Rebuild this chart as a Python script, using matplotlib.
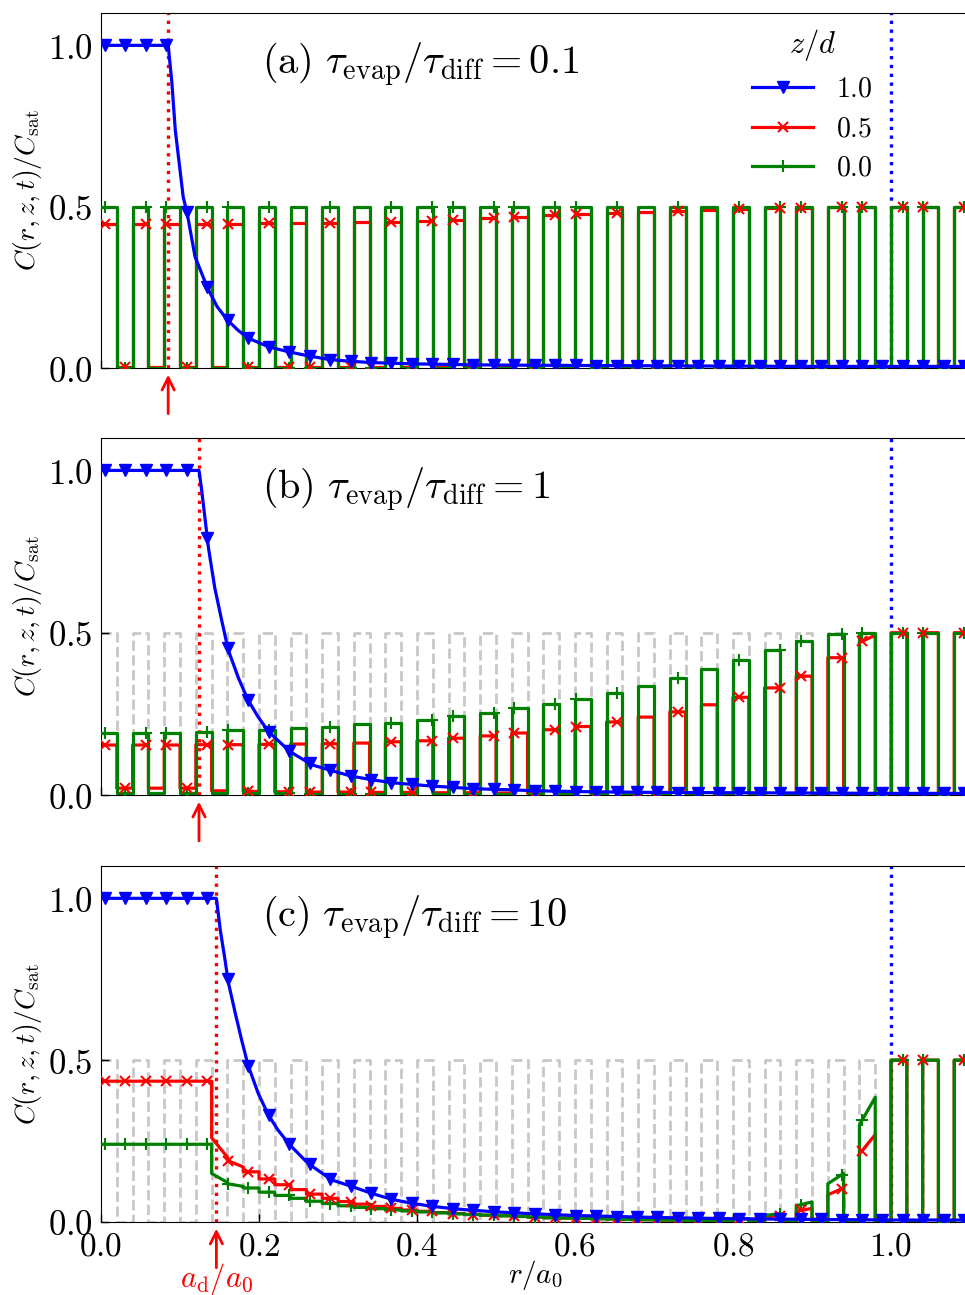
import numpy as np
import matplotlib
matplotlib.use("Agg")
from matplotlib import pyplot as plt
from matplotlib import rcParams
from matplotlib.lines import Line2D
from matplotlib.ticker import FuncFormatter

rcParams["mathtext.fontset"] = "cm"
rcParams["font.family"] = "serif"
rcParams["font.serif"] = ["DejaVu Serif"]
rcParams["xtick.direction"] = "in"
rcParams["ytick.direction"] = "in"
rcParams["xtick.labelsize"] = 24
rcParams["ytick.labelsize"] = 25

# pads of width 0.02 start every 0.04 in r/a0; 28 pads, 27 gaps between them
seg_edges = np.round(np.arange(0.0, 1.1001, 0.02), 2)

ratios = ["0.1", "1", "10"]
panel_letters = ["a", "b", "c"]
a_drop = [0.085, 0.124, 0.146]

# reference pattern (grey dashed), C/Csat on pads and in gaps
ref_pads = [0.5] * 28
ref_gaps = [0.0] * 27

# z/d = 0.0 (green)
green_pads = [
    [0.5] * 28,
    [0.192, 0.192, 0.192, 0.195, 0.199, 0.201, 0.206, 0.211, 0.218, 0.223,
     0.232, 0.242, 0.253, 0.268, 0.280, 0.297, 0.314, 0.335, 0.361, 0.387,
     0.415, 0.446, 0.474, 0.497, 0.5, 0.5, 0.5, 0.5],
    [0.24, 0.24, 0.24, 0.24, (0.118, 0.11), 0.092, 0.073, 0.057, 0.045, 0.037,
     0.031, 0.025, 0.021, 0.017, 0.013, 0.011, 0.009, 0.007, 0.006, 0.005,
     0.01, (0.02, 0.026), (0.05, 0.062), (0.118, 0.15), (0.30, 0.385),
     0.5, 0.5, 0.5],
]
green_gaps = [
    [0.0] * 27,
    [0.006, 0.006, 0.006, 0.005, 0.005, 0.005, 0.004, 0.004, 0.004, 0.004,
     0.003, 0.003, 0.003, 0.003, 0.003, 0.003, 0.002, 0.002, 0.002, 0.002,
     0.002, 0.002, 0.002, 0.002, 0.001, 0.0, 0.0],
    [0.24, 0.24, 0.24, (0.15, 0.122), 0.105, 0.082, 0.064, 0.05, 0.041, 0.034,
     0.028, 0.023, 0.019, 0.015, 0.012, 0.01, 0.008, 0.006, 0.005, 0.004,
     0.003, 0.002, 0.002, 0.002, 0.002, 0.0, 0.0],
]

# z/d = 0.5 (red)
red_pads = [
    [0.445, 0.445, 0.445, 0.446, 0.447, 0.448, 0.449, 0.450, 0.452, 0.453,
     0.457, 0.460, 0.465, 0.469, 0.474, 0.478, 0.481, 0.485, 0.488, 0.491,
     0.493, 0.495, 0.497, 0.498, 0.499, 0.5, 0.5, 0.5],
    [0.154, 0.154, 0.154, 0.155, 0.155, 0.156, 0.157, 0.158, 0.160, 0.164,
     0.167, 0.175, 0.182, 0.191, 0.201, 0.211, 0.225, 0.240, 0.256, 0.278,
     0.301, 0.330, 0.366, 0.423, (0.47, 0.492), 0.5, 0.5, 0.5],
    [0.435, 0.435, 0.435, 0.435, (0.19, 0.17), 0.133, 0.1, 0.073, 0.055, 0.042,
     0.033, 0.026, 0.021, 0.017, 0.013, 0.011, 0.009, 0.007, 0.006, 0.005,
     0.01, (0.016, 0.02), (0.033, 0.042), (0.084, 0.105), (0.21, 0.27),
     0.5, 0.5, 0.5],
]
red_gaps = [
    [0.004] * 25 + [0.0, 0.0],
    [0.021, 0.021, 0.021, 0.013, 0.011, 0.010, 0.009, 0.009, 0.008, 0.008,
     0.007, 0.007, 0.006, 0.006, 0.006, 0.005, 0.005, 0.005, 0.004, 0.004,
     0.004, 0.003, 0.003, 0.003, 0.002, 0.0, 0.0],
    [0.435, 0.435, 0.435, (0.26, 0.20), 0.155, 0.115, 0.086, 0.063, 0.048, 0.037,
     0.029, 0.023, 0.019, 0.015, 0.012, 0.01, 0.008, 0.006, 0.005, 0.004,
     0.002, 0.001, 0.001, 0.001, 0.001, 0.0, 0.0],
]

# z/d = 1.0 (blue)
blue_r = [
    [0.0, 0.085, 0.0895, 0.094, 0.100, 0.104, 0.109, 0.119, 0.135, 0.147,
     0.160, 0.173, 0.186, 0.212, 0.238, 0.264, 0.290, 0.316, 0.342, 0.368,
     0.394, 0.42, 0.47, 0.52, 0.6, 0.7, 0.8, 0.9, 1.0, 1.1],
    [0.0, 0.124, 0.127, 0.132, 0.136, 0.144, 0.153, 0.161, 0.174, 0.186,
     0.199, 0.212, 0.239, 0.267, 0.292, 0.317, 0.343, 0.368, 0.391, 0.417,
     0.442, 0.467, 0.49, 0.518, 0.54, 0.57, 0.62, 0.7, 0.8, 0.9, 1.0, 1.1],
    [0.0, 0.146, 0.151, 0.157, 0.161, 0.170, 0.178, 0.186, 0.199, 0.212,
     0.224, 0.239, 0.262, 0.292, 0.317, 0.343, 0.368, 0.393, 0.42, 0.45,
     0.5, 0.55, 0.6, 0.65, 0.7, 0.75, 0.8, 0.9, 1.0, 1.1],
]
blue_c = [
    [1.0, 1.0, 0.89, 0.737, 0.613, 0.53, 0.48, 0.345, 0.247, 0.19,
     0.149, 0.118, 0.093, 0.066, 0.05, 0.037, 0.026, 0.021, 0.017, 0.015,
     0.013, 0.012, 0.010, 0.009, 0.008, 0.007, 0.006, 0.005, 0.005, 0.005],
    [1.0, 1.0, 0.947, 0.844, 0.761, 0.638, 0.535, 0.447, 0.36, 0.293,
     0.24, 0.195, 0.134, 0.093, 0.075, 0.058, 0.047, 0.038, 0.033, 0.028,
     0.024, 0.02, 0.018, 0.016, 0.014, 0.012, 0.01, 0.008, 0.007, 0.006, 0.005, 0.005],
    [1.0, 1.0, 0.901, 0.809, 0.742, 0.644, 0.562, 0.485, 0.397, 0.33,
     0.284, 0.238, 0.181, 0.13, 0.11, 0.088, 0.07, 0.058, 0.048, 0.04,
     0.031, 0.025, 0.02, 0.017, 0.014, 0.012, 0.01, 0.008, 0.006, 0.006],
]

# marker positions along r (every n-th grid point of the original mesh)
r_marks = 0.005 + 0.0259 * np.arange(43)


def step_line(pads, gaps):
    segs = []
    for i in range(len(pads)):
        segs.append(pads[i])
        if i < len(gaps):
            segs.append(gaps[i])
    xs, ys = [], []
    for i, v in enumerate(segs):
        v0, v1 = v if isinstance(v, tuple) else (v, v)
        xs += [seg_edges[i], seg_edges[i + 1]]
        ys += [v0, v1]
    return np.array(xs), np.array(ys)


fig = plt.figure(figsize=(9.65, 12.95), dpi=100)
bottoms = [0.7158, 0.3861, 0.0564]
heights = [0.2741, 0.2757, 0.2749]

for p in range(3):
    ax = fig.add_axes([0.1047, bottoms[p], 0.9005, heights[p]])
    ax.set_xlim(0, 1.1)
    ax.set_ylim(0, 1.1)

    if p > 0:
        xr, yr = step_line(ref_pads, ref_gaps)
        ax.plot(xr, yr, color="#c8c8c8", ls="--", lw=2, zorder=1)

    ax.axvline(a_drop[p], color="red", ls=":", lw=2.4, zorder=1.5)
    ax.axvline(1.0, color="blue", ls=":", lw=2.4, zorder=1.5)

    xd, yd = step_line(red_pads[p], red_gaps[p])
    ax.plot(xd, yd, color="red", lw=2.3, zorder=2)

    xg, yg = step_line(green_pads[p], green_gaps[p])
    ax.plot(xg, yg, color="green", lw=2.3, zorder=3)
    ax.plot(r_marks, np.interp(r_marks, xg, yg), ls="none", color="green",
            marker="+", ms=9, mew=1.5, zorder=3)

    ax.plot(r_marks, np.interp(r_marks, xd, yd), ls="none", color="red",
            marker="x", ms=7, mew=1.5, zorder=3.5)

    ax.plot(blue_r[p], blue_c[p], color="blue", lw=2.3, zorder=4)
    ax.plot(r_marks, np.interp(r_marks, blue_r[p], blue_c[p]), ls="none",
            color="blue", marker="v", ms=8.5, zorder=4)

    ax.text(0.204, 0.94, r"$\mathrm{(%s)}\ \tau_{\rm evap}/\tau_{\rm diff} = %s$"
            % (panel_letters[p], ratios[p]),
            fontsize=29, ha="left", va="center")

    ax.set_yticks([0.0, 0.5, 1.0])
    ax.set_xticks([0.0, 0.2, 0.4, 0.6, 0.8, 1.0])
    ax.yaxis.set_major_formatter(FuncFormatter(lambda v, pos: r"$%.1f$" % v))
    ax.xaxis.set_major_formatter(FuncFormatter(lambda v, pos: r"$%.1f$" % v))
    ax.tick_params(length=6, width=1, top=False, right=False, pad=6)
    if p < 2:
        ax.tick_params(labelbottom=False)
    ax.spines["right"].set_visible(False)

    ax.set_ylabel(r"$C(r,z,t)/C_{\rm sat}$", fontsize=20)
    ax.yaxis.set_label_coords(-0.066, 0.5)

    ax.annotate("", xy=(a_drop[p], -0.012), xytext=(a_drop[p], -0.15),
                arrowprops=dict(arrowstyle="->", color="red", lw=2,
                                mutation_scale=22),
                annotation_clip=False)

    if p == 2:
        ax.set_xlabel(r"$r/a_0$", fontsize=21, labelpad=-3)
        ax.text(a_drop[p], -0.175, r"$a_{\rm d}/a_0$", color="red",
                fontsize=22, ha="center", va="center")

    if p == 0:
        handles = [
            Line2D([], [], color="blue", lw=2.3, marker="v", ms=8.5),
            Line2D([], [], color="red", lw=2.3, marker="x", ms=7, mew=1.5),
            Line2D([], [], color="green", lw=2.3, marker="+", ms=9, mew=1.5),
        ]
        ax.legend(handles, [r"$1.0$", r"$0.5$", r"$0.0$"],
                  title=r"$z/d$", loc="upper right",
                  bbox_to_anchor=(0.916, 1.03), frameon=False,
                  fontsize=20, title_fontsize=22, numpoints=1,
                  handlelength=2.2, labelspacing=0.45)

fig.savefig("out.png", dpi=100)
